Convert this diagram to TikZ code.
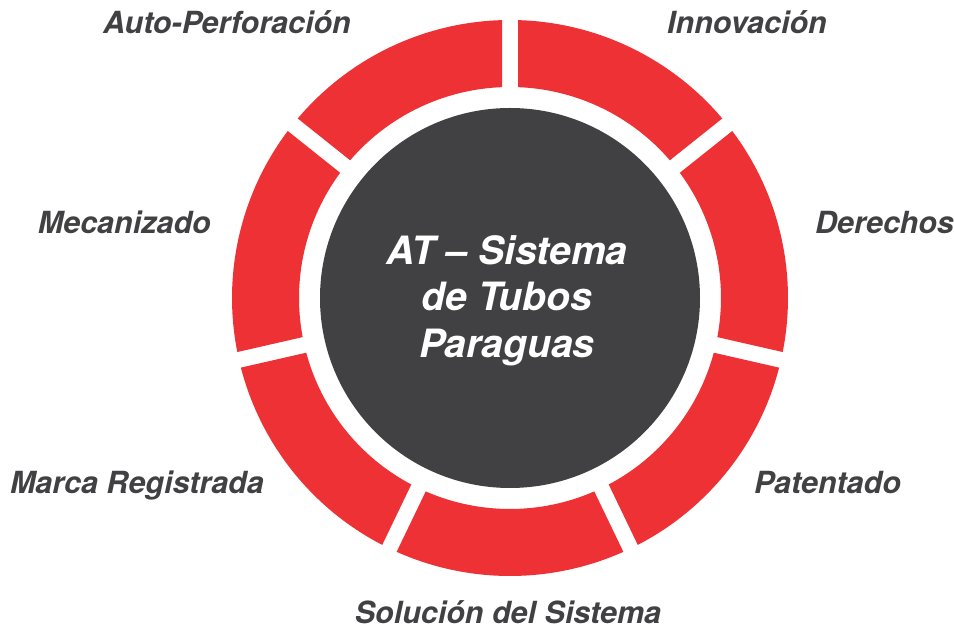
\documentclass[tikz,border=0pt]{standalone}
\usepackage{fontspec}
\setmainfont{TeX Gyre Heros}
\usetikzlibrary{calc}
\definecolor{ringred}{HTML}{EE3135}
\definecolor{coregray}{HTML}{414042}
\definecolor{labelgray}{HTML}{414042}
\begin{document}
\begin{tikzpicture}[x=1pt,y=1pt,
  lbl/.style={font=\fontsize{30.5}{36}\selectfont\bfseries\itshape, text=labelgray, inner sep=0pt},
  ttl/.style={font=\fontsize{39}{46}\selectfont\bfseries\itshape, text=white, inner sep=0pt, anchor=base}]
\useasboundingbox (0,0) rectangle (954,629);
\coordinate (O) at (510,331);
\fill[coregray] (O) circle[radius=190];
\foreach \k in {0,...,6}{
  \pgfmathsetmacro\ao{90-\k*360/7-1.649}
  \pgfmathsetmacro\bo{90-(\k+1)*360/7+1.649}
  \pgfmathsetmacro\ai{90-\k*360/7-2.173}
  \pgfmathsetmacro\bi{90-(\k+1)*360/7+2.173}
  \fill[ringred] ($(O)+(\bo:278)$) arc[start angle=\bo, end angle=\ao, radius=278]
     -- ($(O)+(\ai:211)$) arc[start angle=\ai, end angle=\bi, radius=211] -- cycle;
}
\node[ttl] (title1) at (507,364) {AT – Sistema};
\node[ttl] (title2) at (507,318) {de Tubos};
\node[ttl] (title3) at (507,271) {Paraguas};
\node[lbl, anchor=base east] (auto) at (351,595) {Auto-Perforación};
\node[lbl, anchor=base west] (innov) at (667,595) {Innovación};
\node[lbl, anchor=base east] (mecan) at (211,395) {Mecanizado};
\node[lbl, anchor=base west] (derech) at (815,395) {Derechos};
\node[lbl, anchor=base east] (marca) at (264,135) {Marca Registrada};
\node[lbl, anchor=base west] (patent) at (754,135) {Patentado};
\node[lbl, anchor=base] (solucion) at (508,5) {Solución del Sistema};
\end{tikzpicture}
\end{document}
